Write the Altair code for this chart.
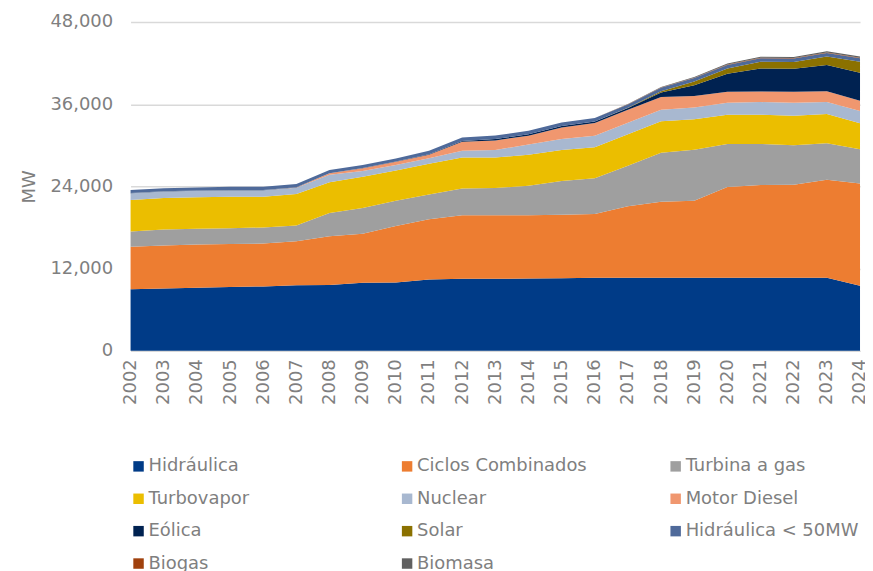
import altair as alt
import pandas as pd

years = list(range(2002, 2025))

techs = ["Hidráulica", "Ciclos Combinados", "Turbina a gas", "Turbovapor", "Nuclear",
         "Motor Diesel", "Eólica", "Solar", "Hidráulica < 50MW", "Biogas", "Biomasa"]
colors = ["#003B87", "#ED7D31", "#9F9F9F", "#EBBE00", "#A8B8D0",
          "#F0976F", "#002251", "#8B7100", "#4F6A9A", "#A0410D", "#606060"]

hidraulica = [9000, 9100, 9200, 9300, 9400, 9550, 9600, 9930, 9980, 10400, 10500, 10500,
              10550, 10600, 10650, 10650, 10650, 10650, 10650, 10650, 10650, 10650, 9500]
ciclos = [6200, 6250, 6300, 6300, 6250, 6450, 7100, 7170, 8220, 8800, 9300, 9300,
          9250, 9250, 9300, 10450, 11100, 11250, 13250, 13550, 13600, 14300, 14900]
turbina = [2200, 2350, 2300, 2300, 2350, 2300, 3400, 3750, 3700, 3600, 3900, 3950,
           4300, 4950, 5250, 5900, 7150, 7450, 6300, 6000, 5750, 5350, 5000]
turbovapor = [4600, 4600, 4600, 4600, 4500, 4600, 4500, 4550, 4400, 4500, 4500, 4450,
              4500, 4500, 4500, 4600, 4600, 4450, 4250, 4250, 4300, 4250, 3800]
nuclear = [1000, 950, 950, 950, 950, 900, 1100, 850, 800, 800, 1000, 1100,
           1500, 1600, 1700, 1700, 1700, 1700, 1750, 1850, 1900, 1750, 1800]
diesel = [0, 0, 0, 0, 0, 50, 200, 400, 500, 500, 1300, 1400,
          1300, 1700, 1850, 1900, 1850, 1700, 1600, 1550, 1600, 1600, 1500]
eolica = [30, 30, 30, 30, 30, 30, 30, 30, 30, 100, 120, 200,
          200, 200, 200, 250, 650, 1550, 2650, 3350, 3350, 3800, 4100]
solar = [0, 0, 0, 0, 0, 0, 0, 0, 0, 0, 10, 10,
         10, 10, 10, 10, 200, 550, 750, 1000, 1000, 1250, 1600]
hid50 = [450, 450, 450, 450, 450, 450, 450, 450, 450, 500, 500, 500,
         500, 500, 500, 500, 500, 500, 500, 500, 500, 500, 500]
biogas = [0, 0, 0, 0, 0, 0, 0, 0, 0, 0, 0, 0,
          0, 0, 0, 30, 40, 60, 70, 80, 80, 90, 90]
biomasa = [0, 0, 0, 0, 0, 0, 0, 0, 0, 0, 0, 0,
           0, 0, 0, 20, 50, 100, 150, 150, 150, 170, 170]

y_ticks = [0, 12000, 24000, 36000, 48000]

series = [hidraulica, ciclos, turbina, turbovapor, nuclear, diesel,
          eolica, solar, hid50, biogas, biomasa]

rows = []
for i, (name, vals) in enumerate(zip(techs, series)):
    for y, v in zip(years, vals):
        rows.append({"year": y, "tech": name, "mw": v, "idx": i})
df = pd.DataFrame(rows)

gray = "#7F7F7F"
font = "DejaVu Sans"

chart = alt.Chart(df).mark_area(interpolate="linear").encode(
    x=alt.X("year:Q",
            scale=alt.Scale(domain=[2002, 2024], nice=False, zero=False),
            axis=alt.Axis(values=years, format="d", labelAngle=270, labelFontSize=18,
                          labelColor=gray, labelFont=font, labelPadding=8, ticks=False,
                          domainColor="#D9D9D9", domainWidth=1, grid=False, title=None,
                          labelOverlap=False)),
    y=alt.Y("mw:Q", stack="zero",
            scale=alt.Scale(domain=[0, 48000], nice=False),
            axis=alt.Axis(values=y_ticks, format=",.0f",
                          labelFontSize=18, labelColor=gray, labelFont=font, labelPadding=18,
                          ticks=False, domain=False, gridColor="#D9D9D9", gridWidth=1.5,
                          title="MW", titleFontSize=18, titleColor=gray, titleFont=font,
                          titleFontWeight="normal", titlePadding=11)),
    color=alt.Color("tech:N",
                    scale=alt.Scale(domain=techs, range=colors),
                    legend=alt.Legend(orient="none", legendX=-1, legendY=437, columns=3,
                                      direction="horizontal",
                                      gridAlign="all", columnPadding=76.5, rowPadding=14.5,
                                      symbolType="square", symbolSize=110,
                                      symbolStrokeWidth=0, labelFontSize=18,
                                      labelColor=gray, labelFont=font, labelOffset=1,
                                      title=None, padding=0, labelLimit=400)),
    order=alt.Order("idx:Q", sort="ascending"),
).properties(
    width=732, height=330,
    padding={"left": 123, "top": 13, "right": 5, "bottom": 220},
    autosize="none",
).configure_view(stroke=None)

chart.save("out.html", embed_options={"renderer": "svg", "actions": False})
